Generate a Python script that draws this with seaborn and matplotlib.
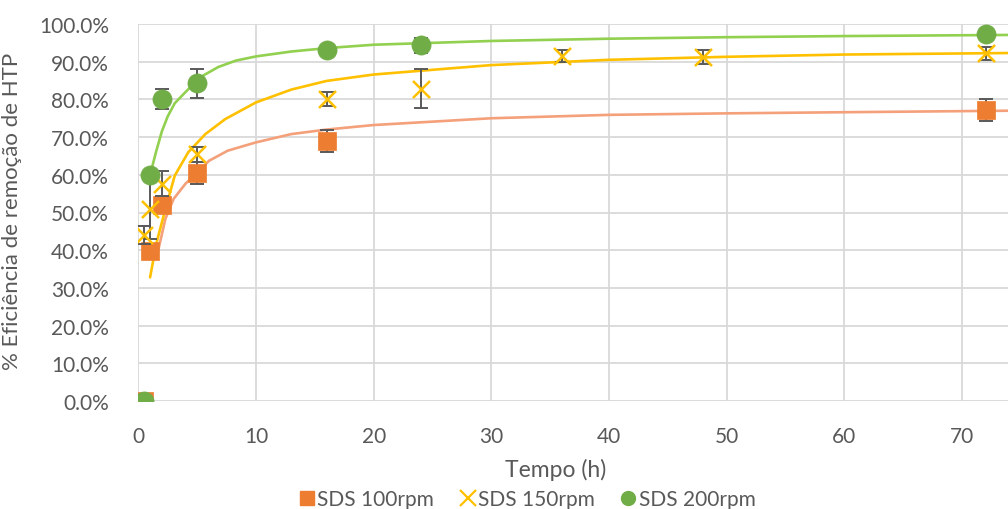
import numpy as np
import pandas as pd
import matplotlib
matplotlib.use('Agg')
import matplotlib.pyplot as plt
from matplotlib.ticker import PercentFormatter, MultipleLocator
from matplotlib.lines import Line2D
import seaborn as sns

# Dados experimentais (tempo em h, eficiencia em %)
tempo_100 = [0.5, 1, 2, 5, 16, 72]
efic_100 = [0.0, 39.9, 52.0, 60.5, 69.0, 77.3]
erro_100 = [0.0, 0.5, 0.5, 2.9, 2.9, 2.9]

tempo_150 = [0.5, 1, 2, 5, 16, 24, 36, 48, 72]
efic_150 = [44.0, 50.8, 57.6, 65.5, 80.1, 82.8, 91.4, 91.3, 92.2]
erro_150 = [2.4, 7.7, 3.3, 2.0, 1.8, 5.2, 1.6, 1.8, 1.7]

tempo_200 = [0.5, 1, 2, 5, 16, 24, 72]
efic_200 = [0.0, 59.9, 80.1, 84.3, 93.1, 94.4, 97.3]
erro_200 = [0.0, 1.0, 2.7, 3.8, 0.8, 2.0, 1.0]

# Linhas de tendencia
trend_x_100 = [1.65, 1.85, 2.3, 3, 4, 6, 7.6, 10, 13, 16, 20, 30, 40, 50, 60, 74]
trend_y_100 = [39.5, 42.1, 48.3, 53.6, 57.6, 63.7, 66.4, 68.6, 70.8, 72.0, 73.2, 75.0, 75.9, 76.3, 76.6, 77.0]

trend_x_150 = [1, 1.56, 2.3, 3.1, 4.25, 5.7, 7.4, 10, 13, 16, 20, 30, 40, 50, 60, 74]
trend_y_150 = [32.8, 42.1, 50.9, 59.8, 66.0, 70.8, 74.8, 79.2, 82.6, 84.9, 86.6, 89.1, 90.5, 91.3, 91.9, 92.3]

trend_x_200 = [1, 1.5, 2, 2.5, 3.1, 4.4, 5.5, 6.8, 8.3, 10, 13, 16, 20, 30, 40, 50, 60, 74]
trend_y_200 = [59.9, 66.0, 71.5, 75.5, 79.0, 83.2, 86.3, 88.6, 90.3, 91.4, 92.7, 93.6, 94.5, 95.5, 96.1, 96.5, 96.8, 97.1]

series = ['SDS 100rpm', 'SDS 150rpm', 'SDS 200rpm']
cores = ['#ED7D31', '#FFC000', '#70AD47']
cores_trend = ['#F4A07A', '#FFC000', '#92D050']
marcadores = ['s', 'x', 'o']

sns.set_theme(style='white')
plt.rcParams['font.family'] = ['Lato', 'DejaVu Sans']
cinza = '#595959'

fig = plt.figure(figsize=(10.08, 5.10), dpi=100)
ax = fig.add_axes([138.3 / 1008, 1 - 402 / 510, 1 - 138.3 / 1008, (402 - 25) / 510])

dados = [
    (tempo_100, efic_100, erro_100, trend_x_100, trend_y_100),
    (tempo_150, efic_150, erro_150, trend_x_150, trend_y_150),
    (tempo_200, efic_200, erro_200, trend_x_200, trend_y_200),
]

# tendencias primeiro
for (t, e, er, tx, ty), cor in zip(dados, cores_trend):
    sns.lineplot(x=tx, y=ty, ax=ax, color=cor, linewidth=1.9, sort=False, zorder=2)

# barras de erro por baixo dos marcadores
z = 3
for (t, e, er, tx, ty), cor, m, nome in zip(dados, cores, marcadores, series):
    df = pd.DataFrame({'Tempo': t, 'Efic': e})
    ax.errorbar(t, e, yerr=er, fmt='none', ecolor=cinza, elinewidth=1.4,
                capsize=5, capthick=1.4, zorder=z)
    if m == 'x':
        sns.scatterplot(data=df, x='Tempo', y='Efic', ax=ax, marker='x', s=150,
                        color=cor, linewidth=1.8, zorder=z + 1)
    else:
        sns.scatterplot(data=df, x='Tempo', y='Efic', ax=ax, marker=m, s=170 if m == 's' else 190,
                        color=cor, edgecolor=cor, linewidth=0.5, zorder=z + 1)
    z += 2

ax.set_xlim(0, 73.9)
ax.set_ylim(0, 100)
ax.xaxis.set_major_locator(MultipleLocator(10))
ax.yaxis.set_major_locator(MultipleLocator(10))
ax.yaxis.set_major_formatter(PercentFormatter(decimals=1))
ax.grid(True, color='#D9D9D9', linewidth=1.3)
ax.set_axisbelow(True)
for s in ax.spines.values():
    s.set_visible(False)
ax.tick_params(axis='both', length=0, labelsize=15, labelcolor=cinza)
ax.tick_params(axis='y', pad=21)
ax.tick_params(axis='x', pad=18)

ax.set_xlabel('')
ax.set_ylabel('% Eficiência de remoção de HTP', fontsize=16, color=cinza)
ax.yaxis.set_label_coords(-(138.3 - 22) / (1008 - 138.3), 0.505)

fig.text(556 / 1008, 1 - 470 / 510, 'Tempo (h)', ha='center', va='center',
         fontsize=16.5, color=cinza)

handles = [
    Line2D([], [], linestyle='none', marker='s', markersize=10, color=cores[0]),
    Line2D([], [], linestyle='none', marker='x', markersize=11, markeredgewidth=1.6, color=cores[1]),
    Line2D([], [], linestyle='none', marker='o', markersize=10, color=cores[2]),
]
fig.legend(handles, series, loc='center', bbox_to_anchor=(526 / 1008, 1 - 500 / 510),
           ncol=3, frameon=False, fontsize=15, labelcolor=cinza, handletextpad=0.0,
           columnspacing=1.1, handlelength=1.0, borderpad=0)

fig.savefig('out.png', dpi=100)
